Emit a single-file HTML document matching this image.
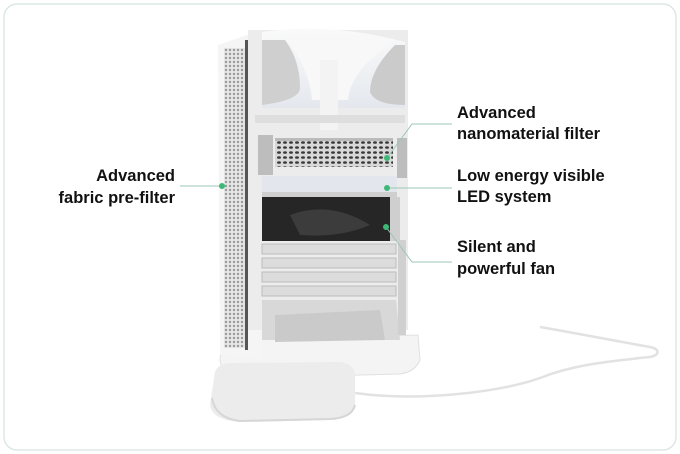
<!DOCTYPE html>
<html><head><meta charset="utf-8"><style>
html,body{margin:0;padding:0;background:#fff;width:680px;height:454px;overflow:hidden}
svg{display:block}
text{font-family:"Liberation Sans",sans-serif;font-weight:bold;font-size:16.5px;fill:#111}
</style></head><body>
<svg width="680" height="454" viewBox="0 0 680 454">
<defs>
<pattern id="mesh" width="4" height="4" patternUnits="userSpaceOnUse">
<rect width="4" height="4" fill="#e6e6e6"/><circle cx="2" cy="2" r="1.2" fill="#9a9a9a"/>
</pattern>
<pattern id="foam" width="6" height="5" patternUnits="userSpaceOnUse">
<rect width="6" height="5" fill="#d8d8d8"/><ellipse cx="3" cy="2.5" rx="2" ry="1.3" fill="#3a3a3a"/>
</pattern>
<linearGradient id="top" x1="0" y1="0" x2="0" y2="1"><stop offset="0" stop-color="#fafafa"/><stop offset="1" stop-color="#e4e8ee"/></linearGradient>
</defs>
<rect x="4" y="4" width="672" height="446" rx="13" fill="#fff" stroke="#dde8e5" stroke-width="1.5"/>

<!-- cable -->
<path d="M355,393 C420,402 500,392 540,378 C570,366 600,362 650,357 C660,355 660,349 650,347 C610,340 570,332 540,327" fill="none" stroke="#e2e2e2" stroke-width="2.5"/>

<!-- base tray -->
<path d="M222,340 L418,335 L420,360 Q415,372 400,374 L240,378 Q222,376 220,360 Z" fill="#f4f4f4" stroke="#e0e0e0"/>
<!-- foot pad -->
<path d="M215,372 Q218,364 230,363 L340,362 Q355,364 355,375 L355,405 Q352,418 330,420 L240,422 Q212,420 210,405 Z" fill="#ececec"/>
<path d="M212,398 Q215,418 240,421 L330,419 Q352,418 355,405" fill="none" stroke="#d6d6d6" stroke-width="2"/>

<!-- outer shell left -->
<path d="M218,45 L262,30 L262,360 L220,355 Z" fill="#f5f5f5"/>
<rect x="224" y="48" width="21" height="300" fill="url(#mesh)"/>
<rect x="245" y="40" width="3" height="310" fill="#555"/>
<!-- body -->
<rect x="248" y="30" width="160" height="300" fill="#ececec"/>
<!-- top funnel area -->
<path d="M262,32 Q330,22 405,42 L405,108 L262,108 Z" fill="url(#top)"/>
<path d="M262,40 L285,40 Q300,60 300,88 Q300,100 262,105 Z" fill="#cfcfcf"/>
<path d="M405,45 L395,45 Q370,70 370,92 Q375,105 405,105 Z" fill="#cbcbcb"/>
<path d="M285,36 Q310,70 312,100 L348,100 Q350,70 395,40 Z" fill="#f8f8f8"/>
<rect x="320" y="60" width="18" height="70" fill="#f3f3f3"/>
<!-- filter section -->
<rect x="255" y="115" width="150" height="8" fill="#dedede"/>
<rect x="258" y="135" width="15" height="40" fill="#bdbdbd"/>
<rect x="275" y="140" width="118" height="27" fill="url(#foam)"/>
<rect x="275" y="138" width="118" height="3" fill="#bbb"/>
<rect x="397" y="138" width="10" height="40" fill="#bdbdbd"/>
<!-- LED -->
<rect x="262" y="176" width="135" height="20" fill="#e3e7ed"/>
<rect x="262" y="192" width="135" height="5" fill="#cfcfcf"/>
<!-- fan -->
<rect x="262" y="197" width="128" height="44" fill="#262626"/>
<rect x="390" y="197" width="10" height="44" fill="#cfcfcf"/>
<path d="M290,215 Q330,200 370,225 Q340,238 300,235 Z" fill="#3c3c3c"/>
<!-- louvres -->
<g fill="#dcdcdc" stroke="#bdbdbd">
<rect x="262" y="244" width="134" height="10"/>
<rect x="262" y="258" width="134" height="10"/>
<rect x="262" y="272" width="134" height="10"/>
<rect x="262" y="286" width="134" height="10"/>
</g>
<path d="M262,300 L396,300 L400,340 L262,340 Z" fill="#d8d8d8"/>
<path d="M275,315 L380,310 L385,340 L275,342 Z" fill="#cacaca"/>
<rect x="398" y="240" width="8" height="95" fill="#d0d0d0"/>

<!-- connectors -->
<g stroke="#9cc7b4" stroke-width="1" fill="none">
<path d="M180,186 L222,186"/>
<path d="M452,124 L412,124 L387,158"/>
<path d="M452,188 L387,188"/>
<path d="M452,262 L412,262 L386,227"/>
</g>
<g fill="#3fb877">
<circle cx="222" cy="186" r="3"/><circle cx="387" cy="158" r="3"/>
<circle cx="387" cy="188" r="3"/><circle cx="386" cy="227" r="3"/>
</g>

<!-- labels -->
<text x="175" y="181" text-anchor="end">Advanced</text>
<text x="175" y="203" text-anchor="end">fabric pre-filter</text>
<text x="457" y="118">Advanced</text>
<text x="457" y="139">nanomaterial filter</text>
<text x="457" y="181">Low energy visible</text>
<text x="457" y="202">LED system</text>
<text x="457" y="252">Silent and</text>
<text x="457" y="274">powerful fan</text>
</svg>
</body></html>
